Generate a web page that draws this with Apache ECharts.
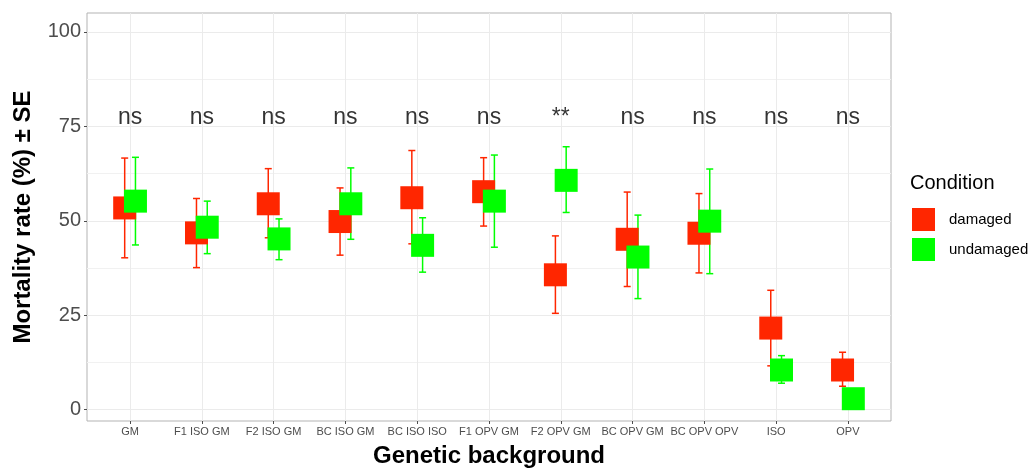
<!DOCTYPE html>
<html>
<head>
<meta charset="utf-8">
<script src="https://cdn.jsdelivr.net/npm/echarts@6.0.0/dist/echarts.min.js"></script>
<style>
  html, body { margin: 0; padding: 0; background: #fff; }
  #chart { width: 1032px; height: 473px; }
</style>
</head>
<body>
<div id="chart"></div>
<script>
// genetic backgrounds on the x axis
const categories = ['GM', 'F1 ISO GM', 'F2 ISO GM', 'BC ISO GM', 'BC ISO ISO', 'F1 OPV GM',
  'F2 OPV GM', 'BC OPV GM', 'BC OPV OPV', 'ISO', 'OPV'];

// mortality rate (%) and the SE bounds
const damagedMean = [53.4, 46.8, 54.5, 49.8, 56.1, 57.7, 35.7, 45.1, 46.7, 21.6, 10.5];
const damagedHigh = [66.6, 55.9, 63.8, 58.7, 68.6, 66.7, 46.0, 57.6, 57.2, 31.6, 15.2];
const damagedLow  = [40.2, 37.6, 45.5, 40.9, 43.9, 48.6, 25.5, 32.6, 36.2, 11.6, 6.2];

const undamagedMean = [55.2, 48.3, 45.2, 54.5, 43.5, 55.2, 60.7, 40.4, 49.9, 10.5, 2.9];
const undamagedHigh = [66.8, 55.2, 50.5, 64.0, 50.8, 67.4, 69.6, 51.5, 63.7, 14.3, 5.2];
const undamagedLow  = [43.6, 41.3, 39.7, 45.1, 36.4, 43.0, 52.2, 29.4, 36.0, 7.0, 0.6];

// significance labels
const signif = ['ns', 'ns', 'ns', 'ns', 'ns', 'ns', '**', 'ns', 'ns', 'ns', 'ns'];
const signifY = 77.4;

const yTicks = [0, 25, 50, 75, 100];
const yMinorTicks = [12.5, 37.5, 62.5, 87.5];

const RED = '#ff2600';
const GREEN = '#00ff00';
const DODGE = 0.075; // position dodge of the two conditions
const FONT = '"Liberation Sans", Arial, sans-serif';

const chart = echarts.init(document.getElementById('chart'));

// points shifted left/right of the category
function pointData(means, shift) {
  return means.map((v, i) => [i + shift, v]);
}
function errData(low, high, shift) {
  return low.map((v, i) => [i + shift, v, high[i]]);
}

// error bar with caps
function renderErr(color) {
  return function (params, api) {
    const x = api.value(0);
    const top = api.coord([x, api.value(2)]);
    const bot = api.coord([x, api.value(1)]);
    const hw = 3.5;
    const style = { stroke: color, lineWidth: 1.5 };
    return {
      type: 'group',
      children: [
        { type: 'line', shape: { x1: top[0], y1: top[1], x2: bot[0], y2: bot[1] }, style: style },
        { type: 'line', shape: { x1: top[0] - hw, y1: top[1], x2: top[0] + hw, y2: top[1] }, style: style },
        { type: 'line', shape: { x1: bot[0] - hw, y1: bot[1], x2: bot[0] + hw, y2: bot[1] }, style: style }
      ]
    };
  };
}

const tickIdx = categories.map((c, i) => i);

const option = {
  animation: false,
  backgroundColor: '#fff',
  textStyle: { fontFamily: FONT },
  title: {
    text: 'Condition',
    left: 910,
    top: 173,
    padding: 0,
    textStyle: { fontSize: 20, fontWeight: 'normal', color: '#000', fontFamily: FONT }
  },
  legend: {
    data: ['damaged', 'undamaged'],
    orient: 'vertical',
    left: 912,
    top: 208,
    padding: 0,
    itemWidth: 23,
    itemHeight: 23,
    itemGap: 7,
    icon: 'rect',
    textStyle: { fontSize: 15, color: '#000', padding: [0, 0, 0, 9], fontFamily: FONT }
  },
  grid: {
    left: 87,
    top: 13,
    width: 804,
    height: 412,
    show: true,
    borderColor: '#b3b3b3',
    borderWidth: 1
  },
  xAxis: {
    type: 'value',
    min: -0.6,
    max: 10.6,
    name: 'Genetic background',
    nameLocation: 'middle',
    nameGap: 23,
    nameTextStyle: { fontSize: 24, fontWeight: 'bold', color: '#000', fontFamily: FONT },
    axisLine: { show: false, onZero: false },
    axisTick: { show: true, customValues: tickIdx, length: 3, lineStyle: { color: '#4d4d4d' } },
    axisLabel: {
      customValues: tickIdx,
      formatter: v => categories[Math.round(v)],
      fontSize: 11,
      color: '#4d4d4d',
      margin: 5,
      fontFamily: FONT
    },
    splitLine: { show: true, lineStyle: { color: '#ebebeb', width: 1 } }
  },
  yAxis: [{
    type: 'value',
    min: -3,
    max: 105,
    name: 'Mortality rate (%) \u00b1 SE',
    nameLocation: 'middle',
    nameGap: 52,
    nameTextStyle: { fontSize: 24, fontWeight: 'bold', color: '#000', fontFamily: FONT },
    axisLine: { show: false, onZero: false },
    axisTick: { show: true, customValues: yTicks, length: 3, lineStyle: { color: '#4d4d4d' } },
    axisLabel: { customValues: yTicks, fontSize: 20, color: '#4d4d4d', margin: 6, fontFamily: FONT },
    splitLine: { show: true, lineStyle: { color: '#ebebeb', width: 1 } }
  }, {
    // minor grid lines only
    type: 'value',
    min: -3,
    max: 105,
    position: 'left',
    axisLine: { show: false, onZero: false },
    axisTick: { show: false, customValues: yMinorTicks },
    axisLabel: { show: false, customValues: yMinorTicks },
    splitLine: { show: true, lineStyle: { color: '#f1f1f1', width: 1 } }
  }],
  series: [
    {
      type: 'custom',
      name: 'damaged-se',
      renderItem: renderErr(RED),
      data: errData(damagedLow, damagedHigh, -DODGE),
      encode: { x: 0, y: [1, 2] },
      z: 2,
      silent: true
    },
    {
      type: 'custom',
      name: 'undamaged-se',
      renderItem: renderErr(GREEN),
      data: errData(undamagedLow, undamagedHigh, DODGE),
      encode: { x: 0, y: [1, 2] },
      z: 2,
      silent: true
    },
    {
      type: 'scatter',
      name: 'damaged',
      symbol: 'rect',
      symbolSize: 23,
      itemStyle: { color: RED, opacity: 1 },
      data: pointData(damagedMean, -DODGE),
      z: 3
    },
    {
      type: 'scatter',
      name: 'undamaged',
      symbol: 'rect',
      symbolSize: 23,
      itemStyle: { color: GREEN, opacity: 1 },
      data: pointData(undamagedMean, DODGE),
      z: 4
    },
    {
      type: 'scatter',
      name: 'signif',
      symbolSize: 1,
      itemStyle: { color: 'rgba(0,0,0,0)' },
      silent: true,
      data: signif.map((s, i) => [i, signifY]),
      label: {
        show: true,
        position: 'inside',
        formatter: p => signif[p.dataIndex],
        fontSize: 23,
        color: '#000',
        fontFamily: FONT
      },
      z: 5
    }
  ]
};

chart.setOption(option);
</script>
</body>
</html>
